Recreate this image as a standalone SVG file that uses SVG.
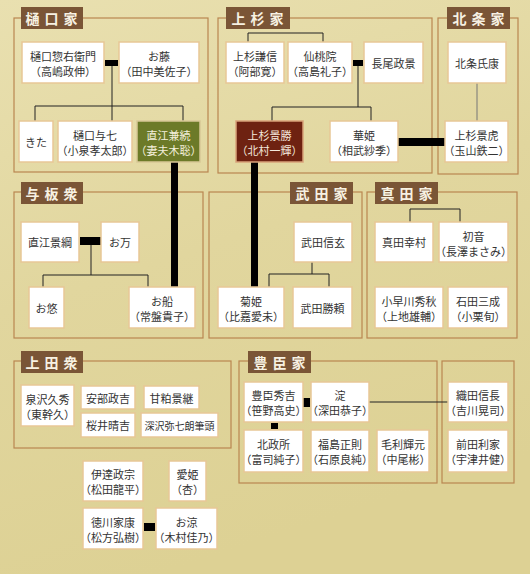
<svg xmlns="http://www.w3.org/2000/svg" width="530" height="574" viewBox="0 0 530 574">
<defs>
<linearGradient id="bg" x1="0" y1="0" x2="0.3" y2="1">
<stop offset="0" stop-color="#e9e0b0"/>
<stop offset="0.5" stop-color="#e1d69e"/>
<stop offset="1" stop-color="#ddd194"/>
</linearGradient>
<style>
.frame{fill:none;stroke:#b98650;stroke-width:1.2}
.lab rect{fill:#7a5536}
.lab text{fill:#f7f1e2;font-family:"Noto Sans CJK JP","Noto Sans",sans-serif;font-size:14px;font-weight:bold;letter-spacing:5px;text-anchor:middle;dominant-baseline:central}
.n rect{fill:#ffffff;stroke:#e8c796;stroke-width:1.5}
.n text{fill:#333333;font-family:"Noto Sans CJK JP","Noto Sans",sans-serif;font-size:11px;text-anchor:middle;dominant-baseline:central}
.g rect{fill:#6c7a28;stroke:#d8c896}
.g text{fill:#f4f0dc}
.r rect{fill:#6e2211;stroke:#d9a27a}
.r text{fill:#f4e8dc}
.thin{stroke:#222;stroke-width:1;fill:none}
.grey{stroke:#777;stroke-width:1;fill:none}
.blk{fill:#000}
</style>
</defs>
<rect width="530" height="574" fill="url(#bg)"/>

<g id="frames">
<rect class="frame" x="14" y="18" width="194" height="154"/>
<rect class="frame" x="218" y="18" width="214" height="155"/>
<rect class="frame" x="438" y="18" width="80" height="156"/>
<rect class="frame" x="14" y="192" width="189" height="146"/>
<rect class="frame" x="209" y="192" width="153" height="146"/>
<rect class="frame" x="367" y="192" width="150" height="146"/>
<rect class="frame" x="14" y="361" width="217" height="87"/>
<rect class="frame" x="239" y="361" width="198" height="122"/>
<rect class="frame" x="442" y="361" width="72" height="122"/>
</g>

<g id="labels">
<g class="lab" id="lab-higuchi"><rect x="21" y="7" width="62" height="22"/><text x="54" y="18">樋口家</text></g>
<g class="lab" id="lab-uesugi"><rect x="226" y="7" width="64" height="22"/><text x="260" y="18">上杉家</text></g>
<g class="lab" id="lab-hojo"><rect x="447" y="7" width="63" height="22"/><text x="481" y="18">北条家</text></g>
<g class="lab" id="lab-yoita"><rect x="21" y="182" width="62" height="22"/><text x="54" y="193">与板衆</text></g>
<g class="lab" id="lab-takeda"><rect x="290" y="182" width="63" height="22"/><text x="324" y="193">武田家</text></g>
<g class="lab" id="lab-sanada"><rect x="375" y="182" width="63" height="22"/><text x="409" y="193">真田家</text></g>
<g class="lab" id="lab-ueda"><rect x="21" y="351" width="62" height="22"/><text x="54" y="362">上田衆</text></g>
<g class="lab" id="lab-toyotomi"><rect x="248" y="351" width="63" height="22"/><text x="282" y="362">豊臣家</text></g>
</g>

<g id="connectors">
<path class="thin" d="M112 66V121M35 121V106H183V121"/>
<path class="thin" d="M248 42V33H323V42"/>
<path class="thin" d="M358 66V107M272 121V107H371V121"/>
<path class="grey" d="M477 83V121"/>
<path class="thin" d="M91 245V275M43 287V275H148V287"/>
<path class="thin" d="M312 262V274M269 287V274H329V287"/>
<path class="thin" d="M410 222V209H460V222"/>
<path class="thin" d="M369 402H448"/>
<rect class="blk" x="105" y="60" width="13" height="6"/>
<rect class="blk" x="353" y="60" width="10" height="6"/>
<rect class="blk" x="80" y="237" width="21" height="8"/>
<rect class="blk" x="303" y="398" width="7" height="9"/>
<rect class="blk" x="271" y="423" width="7" height="6"/>
<rect class="blk" x="144" y="523" width="11" height="8"/>
<rect class="blk" x="171" y="162" width="7" height="125"/>
<rect class="blk" x="251" y="162" width="7" height="125"/>
<rect class="blk" x="398" y="138" width="47" height="8"/>
</g>

<g id="n-higuchi-souemon" class="n"><rect x="22" y="42" width="82" height="41"/><text x="63" y="56">樋口惣右衛門</text><text x="63" y="71">（高嶋政伸）</text></g>
<g id="n-ofuji" class="n"><rect x="119" y="42" width="80" height="41"/><text x="159" y="56">お藤</text><text x="159" y="71">（田中美佐子）</text></g>
<g id="n-kita" class="n"><rect x="19" y="121" width="34" height="41"/><text x="36" y="141.5">きた</text></g>
<g id="n-yoshichi" class="n"><rect x="58" y="121" width="74" height="41"/><text x="95" y="135">樋口与七</text><text x="95" y="150">（小泉孝太郎）</text></g>
<g id="n-kanetsugu" class="n g"><rect x="137" y="121" width="63" height="41"/><text x="168.5" y="135">直江兼続</text><text x="168.5" y="150">（妻夫木聡）</text></g>

<g id="n-kenshin" class="n"><rect x="226" y="42" width="58" height="41"/><text x="255" y="56">上杉謙信</text><text x="255" y="71">（阿部寛）</text></g>
<g id="n-sentoin" class="n"><rect x="288" y="42" width="64" height="41"/><text x="320" y="56">仙桃院</text><text x="320" y="71">（高島礼子）</text></g>
<g id="n-masakage" class="n"><rect x="364" y="42" width="59" height="41"/><text x="393.5" y="62.5">長尾政景</text></g>
<g id="n-kagekatsu" class="n r"><rect x="236" y="121" width="67" height="41"/><text x="269.5" y="135">上杉景勝</text><text x="269.5" y="150">（北村一輝）</text></g>
<g id="n-hanahime" class="n"><rect x="330" y="121" width="68" height="41"/><text x="364" y="135">華姫</text><text x="364" y="150">（相武紗季）</text></g>

<g id="n-ujiyasu" class="n"><rect x="448" y="42" width="58" height="41"/><text x="477" y="62.5">北条氏康</text></g>
<g id="n-kagetora" class="n"><rect x="445" y="121" width="63" height="41"/><text x="476.5" y="135">上杉景虎</text><text x="476.5" y="150">（玉山鉄二）</text></g>

<g id="n-kagetsuna" class="n"><rect x="21" y="222" width="58" height="40"/><text x="50" y="242">直江景綱</text></g>
<g id="n-oman" class="n"><rect x="101" y="222" width="38" height="40"/><text x="120" y="242">お万</text></g>
<g id="n-oyu" class="n"><rect x="29" y="287" width="35" height="41"/><text x="46.5" y="307.5">お悠</text></g>
<g id="n-osen" class="n"><rect x="129" y="287" width="66" height="41"/><text x="162" y="301">お船</text><text x="162" y="316">（常盤貴子）</text></g>

<g id="n-shingen" class="n"><rect x="294" y="222" width="58" height="40"/><text x="323" y="242">武田信玄</text></g>
<g id="n-kikuhime" class="n"><rect x="218" y="287" width="66" height="41"/><text x="251" y="301">菊姫</text><text x="251" y="316">（比嘉愛未）</text></g>
<g id="n-katsuyori" class="n"><rect x="293" y="287" width="59" height="41"/><text x="322.5" y="307.5">武田勝頼</text></g>

<g id="n-yukimura" class="n"><rect x="375" y="222" width="58" height="40"/><text x="404" y="242">真田幸村</text></g>
<g id="n-hatsune" class="n"><rect x="439" y="222" width="69" height="40"/><text x="473.5" y="236">初音</text><text x="473.5" y="251">（長澤まさみ）</text></g>
<g id="n-hideaki" class="n"><rect x="375" y="287" width="68" height="41"/><text x="409" y="301">小早川秀秋</text><text x="409" y="316">（上地雄輔）</text></g>
<g id="n-mitsunari" class="n"><rect x="448" y="287" width="60" height="41"/><text x="478" y="301">石田三成</text><text x="478" y="316">（小栗旬）</text></g>

<g id="n-hisahide" class="n"><rect x="21" y="385" width="53" height="41"/><text x="47.5" y="399">泉沢久秀</text><text x="47.5" y="414">（東幹久）</text></g>
<g id="n-masayoshi" class="n"><rect x="81" y="386" width="54" height="23"/><text x="108" y="397.5">安部政吉</text></g>
<g id="n-kagetsugu" class="n"><rect x="144" y="386" width="55" height="23"/><text x="171.5" y="397.5">甘粕景継</text></g>
<g id="n-harukichi" class="n"><rect x="81" y="413" width="54" height="24"/><text x="108" y="425">桜井晴吉</text></g>
<g id="n-fukasawa" class="n"><rect x="141" y="413" width="77" height="24"/><text x="179.5" y="425" style="font-size:10px">深沢弥七朗筆頭</text></g>

<g id="n-hideyoshi" class="n"><rect x="244" y="382" width="59" height="40"/><text x="273.5" y="395">豊臣秀吉</text><text x="273.5" y="410">（笹野高史）</text></g>
<g id="n-yodo" class="n"><rect x="311" y="382" width="58" height="40"/><text x="340" y="395">淀</text><text x="340" y="410">（深田恭子）</text></g>
<g id="n-kitanomandokoro" class="n"><rect x="244" y="430" width="59" height="42"/><text x="273.5" y="444">北政所</text><text x="273.5" y="459">（富司純子）</text></g>
<g id="n-masanori" class="n"><rect x="311" y="430" width="58" height="42"/><text x="340" y="444">福島正則</text><text x="340" y="459">（石原良純）</text></g>
<g id="n-terumoto" class="n"><rect x="377" y="430" width="52" height="42"/><text x="403" y="444">毛利輝元</text><text x="403" y="459">（中尾彬）</text></g>
<g id="n-nobunaga" class="n"><rect x="448" y="382" width="60" height="40"/><text x="478" y="395">織田信長</text><text x="478" y="410">（吉川晃司）</text></g>
<g id="n-toshiie" class="n"><rect x="448" y="430" width="60" height="42"/><text x="478" y="444">前田利家</text><text x="478" y="459">（宇津井健）</text></g>

<g id="n-masamune" class="n"><rect x="83" y="461" width="60" height="40"/><text x="113" y="474">伊達政宗</text><text x="113" y="489">（松田龍平）</text></g>
<g id="n-megohime" class="n"><rect x="169" y="461" width="37" height="40"/><text x="187.5" y="474">愛姫</text><text x="187.5" y="489">（杏）</text></g>
<g id="n-ieyasu" class="n"><rect x="83" y="508" width="60" height="41"/><text x="113" y="522">徳川家康</text><text x="113" y="537">（松方弘樹）</text></g>
<g id="n-osuzu" class="n"><rect x="156" y="508" width="61" height="41"/><text x="186.5" y="522">お涼</text><text x="186.5" y="537">（木村佳乃）</text></g>
</svg>
